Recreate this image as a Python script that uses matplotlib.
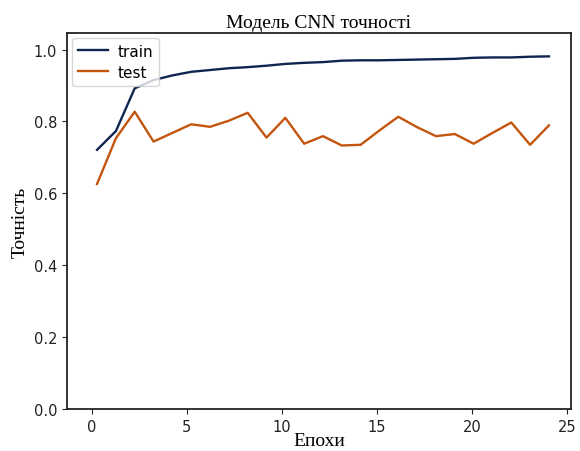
import matplotlib
matplotlib.use("Agg")
import matplotlib.pyplot as plt

# Epoch positions and accuracy per epoch
epochs = [0.28, 1.27, 2.26, 3.25, 4.24, 5.23, 6.22, 7.21, 8.20, 9.19,
          10.18, 11.17, 12.16, 13.15, 14.14, 15.13, 16.12, 17.11, 18.10,
          19.09, 20.08, 21.07, 22.06, 23.05, 24.04]
train_acc = [0.721, 0.773, 0.892, 0.915, 0.928, 0.938, 0.943, 0.948, 0.951,
             0.955, 0.960, 0.963, 0.965, 0.969, 0.970, 0.970, 0.971, 0.972,
             0.973, 0.974, 0.977, 0.978, 0.978, 0.980, 0.981]
test_acc = [0.626, 0.753, 0.827, 0.744, 0.768, 0.792, 0.785, 0.802, 0.824,
            0.755, 0.810, 0.738, 0.759, 0.733, 0.735, 0.775, 0.813, 0.784,
            0.759, 0.765, 0.738, 0.768, 0.797, 0.735, 0.789]
x_ticks = [0, 5, 10, 15, 20, 25]
y_ticks = [0.0, 0.2, 0.4, 0.6, 0.8, 1.0]

fig = plt.figure(figsize=(5.8, 4.52), dpi=100)
ax = fig.add_axes([0.1155, 0.0929, 0.869, 0.8319])

ax.plot(epochs, train_acc, color="#0f2550", lw=1.7, label="train")
ax.plot(epochs, test_acc, color="#c4550f", lw=1.7, label="test")

ax.set_xlim(-1.3, 25.2)
ax.set_ylim(0, 1.046)
ax.set_xticks(x_ticks)
ax.set_yticks(y_ticks)
ax.set_yticklabels([f"{v:.1f}" for v in y_ticks])
ax.tick_params(labelsize=10.5, colors="#222222")
for s in ax.spines.values():
    s.set_linewidth(1.3)
    s.set_color("#222222")

serif = {"family": "Liberation Serif", "size": 14}
ax.set_title("Модель CNN точності", fontdict=serif, pad=4)
ax.set_xlabel("Епохи", fontdict=serif, labelpad=-1)
ax.set_ylabel("Точність", fontdict=serif, labelpad=4)

ax.legend(loc="upper left", fontsize=11, handlelength=2.0,
          borderaxespad=0.3, framealpha=0.8, labelspacing=0.4,
          handletextpad=0.6)

fig.savefig("out.png", dpi=100)
